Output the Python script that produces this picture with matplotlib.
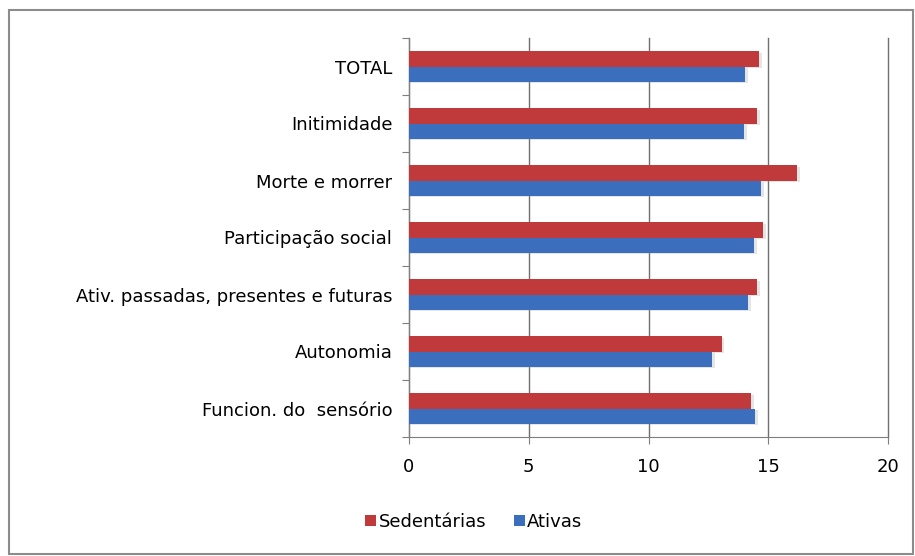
import matplotlib.pyplot as plt
import numpy as np
from matplotlib.patches import Rectangle

categories = ['TOTAL', 'Initimidade', 'Morte e morrer', 'Participação social',
              'Ativ. passadas, presentes e futuras', 'Autonomia', 'Funcion. do  sensório']
sedentarias = [14.6, 14.55, 16.2, 14.8, 14.55, 13.05, 14.3]
ativas = [14.05, 14.0, 14.7, 14.4, 14.15, 12.65, 14.45]
xticks = [0, 5, 10, 15, 20]

red = '#C0393B'
blue = '#3B6FBE'

plt.rcParams['font.family'] = ['DejaVu Sans']
fs = 13

fig = plt.figure(figsize=(9.15, 5.56), dpi=100)
ax = fig.add_axes([409 / 915, 1 - 437 / 556, 479 / 915, 399 / 556])

# categories go top to bottom
y = np.arange(len(categories))[::-1]
h = 0.265
ax.barh(y + h / 2, sedentarias, height=h, color=red, label='Sedentárias', zorder=3)
ax.barh(y - h / 2, ativas, height=h, color=blue, label='Ativas', zorder=3)

# soft drop shadow under the bars
for vals, off in ((sedentarias, h / 2), (ativas, -h / 2)):
    ax.barh(y + off - 0.03, np.array(vals) + 0.12, height=h, left=0,
            color='#999999', alpha=0.25, zorder=2, linewidth=0)

ax.set_xlim(0, 20)
ax.set_ylim(-0.5, len(categories) - 0.5)
ax.set_xticks(xticks)
ax.set_xticklabels([str(t) for t in xticks], fontsize=fs)
ax.xaxis.grid(True, color='#6f6f6f', linewidth=1.0, zorder=0)
for gl in ax.get_xgridlines():
    gl.set_clip_on(False)

ax.set_yticks(np.arange(-0.5, len(categories), 1.0))
ax.set_yticklabels([])
ax.set_yticks(y, minor=True)
ax.set_yticklabels(categories, minor=True, fontsize=fs)
ax.tick_params(axis='y', which='minor', length=0, pad=12)
ax.tick_params(axis='y', which='major', length=5, color='#7f7f7f')
ax.tick_params(axis='x', length=5, color='#7f7f7f', pad=10)

for side in ('top', 'right'):
    ax.spines[side].set_visible(False)
ax.spines['left'].set_color('#7f7f7f')
ax.spines['bottom'].set_color('#7f7f7f')

ax.legend(loc='center', bbox_to_anchor=(474 / 915, 1 - 522 / 556),
          bbox_transform=fig.transFigure, ncol=2, frameon=False,
          fontsize=fs, handlelength=0.6, handleheight=0.6,
          handletextpad=0.15, columnspacing=1.5)

fig.patches.append(Rectangle((9 / 915, 2 / 556), 904 / 915, 544 / 556,
                             transform=fig.transFigure, fill=False,
                             edgecolor='#8c8c8c', linewidth=1.5))

fig.savefig('out.png', dpi=100)
